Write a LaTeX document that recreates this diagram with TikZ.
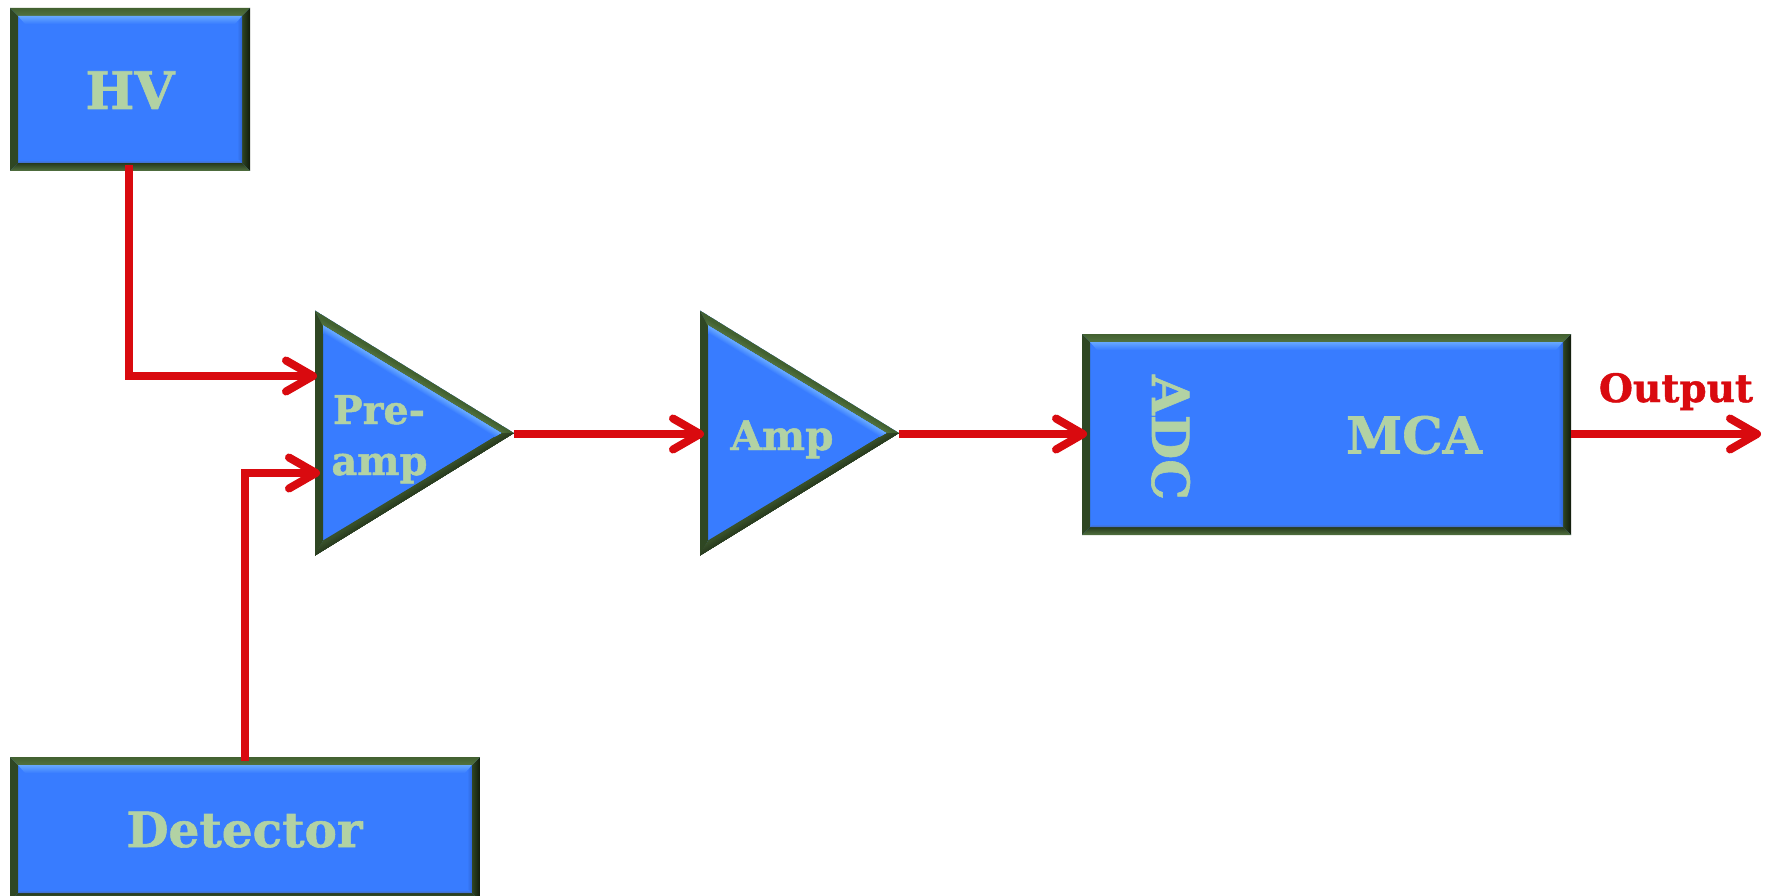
\documentclass[tikz,border=0pt]{standalone}
\usepackage{fontspec}
\setmainfont{DejaVu Serif}[BoldFeatures={FakeBold=1.2}]
\usetikzlibrary{arrows.meta,calc,shapes.geometric}
\definecolor{fillblue}{HTML}{387CFF}
\definecolor{glowblue}{HTML}{66A8FF}
\definecolor{edgeblue}{HTML}{2F66D8}
\definecolor{txtgreen}{HTML}{B2D2A4}
\definecolor{wire}{HTML}{D90A0F}
\definecolor{gA}{HTML}{426130}
\definecolor{gB}{HTML}{527240}
\definecolor{gC}{HTML}{2F4723}
\definecolor{gD}{HTML}{263A1C}
\definecolor{gE}{HTML}{101A0A}
\tikzset{
  boxshape/.style={rectangle,fill=fillblue,inner sep=0pt,outer sep=0pt,anchor=north west},
  trishape/.style={isosceles triangle,isosceles triangle stretches,shape border rotate=0,fill=fillblue,inner sep=0pt,outer sep=0pt,anchor=lower side,minimum width=245pt,minimum height=199pt},
  lab/.style={text=txtgreen,anchor=base,inner sep=0pt,font=\bfseries},
  conn/.style={draw=wire,line width=8pt,line join=miter},
  arr/.style={conn,-{Straight Barb[length=27pt,width=31pt,round]}},
}
% rectangular bevel around a named node
\newcommand{\bevel}[1]{%
  \coordinate (a) at (#1.north west); \coordinate (b) at (#1.north east);
  \coordinate (c) at (#1.south east); \coordinate (d) at (#1.south west);
  \coordinate (A) at ([shift={(8,8)}]a); \coordinate (B) at ([shift={(-8,8)}]b);
  \coordinate (C) at ([shift={(-8,-8)}]c); \coordinate (D) at ([shift={(8,-8)}]d);
  \shade[left color=gC,right color=gC] (a)--(A)--(D)--(d)--cycle;
  \shade[left color=gD!80!gB,right color=gE] (b)--(B)--(C)--(c)--cycle;
  \shade[top color=gA,bottom color=gB] (a)--(b)--(B)--(A)--cycle;
  \shade[top color=gD,bottom color=gB] (d)--(c)--(C)--(D)--cycle;
  \shade[top color=glowblue,bottom color=fillblue] (A)--(B)--([shift={(-7,8)}]B)--([shift={(7,8)}]A)--cycle;
  \shade[left color=fillblue,right color=edgeblue] ([shift={(-5,7)}]B)--(B)--(C)--([shift={(-5,-3)}]C)--cycle;
  \shade[top color=fillblue,bottom color=edgeblue!70!gray] ([shift={(3,-3)}]D)--([shift={(-3,-3)}]C)--(C)--(D)--cycle;
}
% triangular bevel around a named node
\newcommand{\stripes}[5]{% from, to, colour at the line, colour away from it, half width
  \foreach \i in {1,...,8}{
    \pgfmathsetmacro{\w}{2*#5*(9-\i)/8}
    \pgfmathsetmacro{\m}{100*(\i-1)/7}
    \draw[line width=\w pt,color=#3!\m!#4,line cap=rect] (#1)--(#2);
  }}
\newcommand{\tribevel}[1]{%
  \coordinate (a) at (#1.left corner); \coordinate (t) at (#1.apex); \coordinate (d) at (#1.right corner);
  \coordinate (A) at ([shift={(8,15)}]a); \coordinate (T) at ([shift={(-13,0)}]t); \coordinate (D) at ([shift={(8,-15)}]d);
  \fill[gC] (a)--(A)--(D)--(d)--cycle;
  \begin{scope}\clip (a)--(t)--(T)--(A)--cycle; \fill[gA] (a)--(t)--(T)--(A)--cycle; \stripes{A}{T}{gB}{gA}{6}\end{scope}
  \begin{scope}\clip (d)--(t)--(T)--(D)--cycle; \fill[gD!60!gB] (d)--(t)--(T)--(D)--cycle; \stripes{d}{t}{gE}{gD!60!gB}{7}\end{scope}
  \begin{scope}\clip (A)--(T)--(D)--cycle; \stripes{A}{T}{glowblue}{fillblue}{7}\end{scope}
}
\begin{document}
\begin{tikzpicture}[x=1pt,y=-1pt]
\useasboundingbox (0,0) rectangle (1773,896);
\fill[white] (0,0) rectangle (1773,896);
\clip (0,0) rectangle (1773,896);
% blocks
\node[boxshape,minimum width=240pt,minimum height=163pt] (hv) at (10,8) {};
\node[boxshape,minimum width=470pt,minimum height=144pt] (det) at (10,757) {};
\node[boxshape,minimum width=489pt,minimum height=201pt] (adc) at (1082,334) {};
\node[trishape] (pre) at (315,433) {};
\node[trishape] (amp) at (700,433) {};
\bevel{hv}\bevel{det}\bevel{adc}
\tribevel{pre}\tribevel{amp}
% labels
\node[lab] (hvt) at (130,109) {\resizebox{89pt}{!}{HV}};
\node[lab] (dett) at (244.5,847) {\resizebox{236pt}{!}{Detector}};
\node[lab] (mcat) at (1414,453.5) {\resizebox{136pt}{!}{MCA}};
\node[lab,rotate=-90,anchor=base] (adct) at (1152,437.5) {\resizebox{125pt}{!}{ADC}};
\node[lab] (pret) at (379,424) {\resizebox{92pt}{!}{Pre-}};
\node[lab] (ampt) at (379.5,475) {\resizebox{96pt}{!}{amp}};
\node[lab] (ampl) at (782,450) {\resizebox{103pt}{!}{Amp}};
\node[lab,text=wire] (outt) at (1676,402) {\resizebox{154pt}{!}{Output}};
% connector ends
\coordinate (hvin) at (317,376);
\coordinate (detin) at (320,473);
\coordinate (ampin) at (704,434);
\coordinate (adcin) at (1087,434);
\coordinate (outend) at (1761,434);
% connectors
\draw[conn] ([shift={(-1pt,6pt)}]hv.south) -- ([xshift=-1pt]hv.south |- hvin) coordinate (hvk);
\draw[arr] ([xshift=-4pt]hvk) -- (hvin);
\draw[conn] ([yshift=-4pt]det.north) -- (det.north |- detin) coordinate (detk);
\draw[arr] ([xshift=-4pt]detk) -- (detin);
\draw[arr] (pre.apex |- ampin) -- (ampin);
\draw[arr] (amp.apex |- adcin) -- (adcin);
\draw[arr] (adc.east |- outend) -- (outend);
\end{tikzpicture}
\end{document}
